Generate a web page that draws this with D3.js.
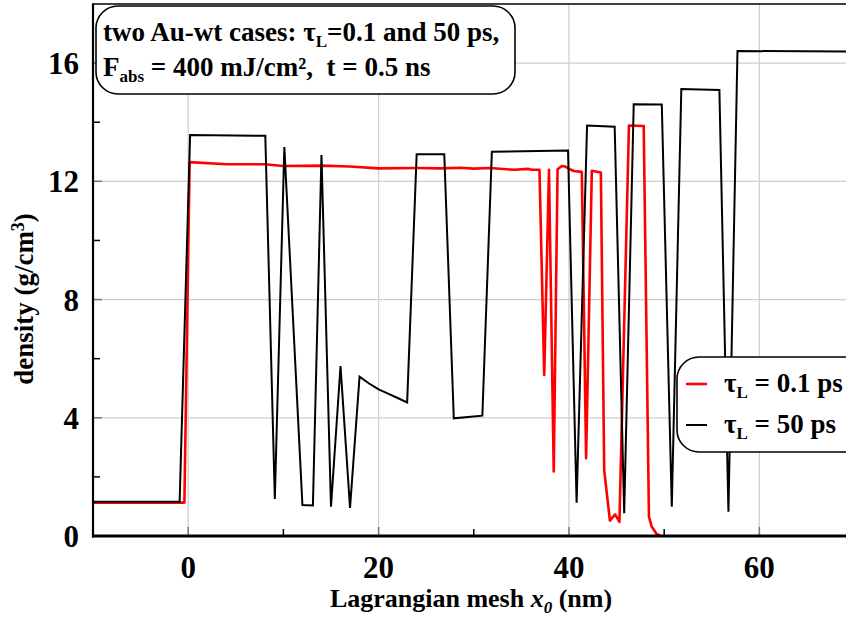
<!DOCTYPE html>
<html>
<head>
<meta charset="utf-8">
<script src="https://cdn.jsdelivr.net/npm/d3@7"></script>
<style>
  body { margin: 0; background: #fff; }
  svg { display: block; }
  text { font-family: "Liberation Serif", "Times New Roman", serif; font-weight: bold; white-space: pre; }
</style>
</head>
<body>
<svg id="chart" width="846" height="621"></svg>
<script>
// ---- data ----
const xMajorTicks = [0, 20, 40, 60];
const xMinorTicks = [-10, 10, 30, 50];
const yMajorTicks = [0, 4, 8, 12, 16];
const yMinorTicks = [2, 6, 10, 14];

// tau_L = 50 ps (black)
const blackX = [-10, -0.9, 0.2, 8.1, 9.1, 10.1, 12.0, 13.1, 14.0, 15.0, 16.0, 17.0, 18.0, 19.0, 20.0, 21.0, 22.0, 23.0, 24.0, 26.9, 27.9, 30.9, 31.9, 39.9, 40.8, 41.9, 44.8, 45.8, 46.8, 49.75, 50.8, 51.8, 55.8, 56.75, 57.7, 70];
const blackY = [1.16, 1.16, 13.57, 13.54, 1.25, 13.16, 1.05, 1.03, 12.89, 0.99, 5.75, 0.95, 5.39, 5.16, 4.96, 4.82, 4.67, 4.52, 12.92, 12.92, 3.98, 4.07, 13.0, 13.04, 1.13, 13.89, 13.85, 0.77, 14.61, 14.6, 0.99, 15.12, 15.09, 0.82, 16.41, 16.39];

// tau_L = 0.1 ps (red)
const redX = [-10, -0.4, 0.15, 4, 8, 10, 14, 17, 20, 24, 26.5, 28.6, 30, 31.7, 34.2, 35.75, 36.1, 36.9, 37.4, 37.9, 38.4, 38.8, 39.25, 39.6, 40.1, 40.5, 41.35, 41.8, 42.4, 43.35, 43.7, 44.3, 44.85, 45.3, 46.3, 47.85, 48.4, 48.7, 49.2, 49.6];
const redY = [1.13, 1.13, 12.65, 12.58, 12.58, 12.52, 12.53, 12.5, 12.44, 12.45, 12.44, 12.46, 12.43, 12.45, 12.39, 12.42, 12.39, 12.39, 5.45, 12.39, 2.18, 12.41, 12.52, 12.5, 12.41, 12.35, 12.32, 2.63, 12.36, 12.3, 2.23, 0.52, 0.73, 0.48, 13.89, 13.87, 0.65, 0.31, 0.07, 0];

const seriesNames = ["0.1 ps", "50 ps"];
const seriesColors = ["#ff0000", "#000000"];

// ---- layout ----
const svg = d3.select("#chart");
const pLeft = 93, pRight = 846, pTop = 4, pBottom = 536;
const x = d3.scaleLinear().domain([-10, 69.1]).range([pLeft, pRight]);
const y = d3.scaleLinear().domain([0, 18]).range([pBottom, pTop]);

// grid
svg.append("g").selectAll("line").data(xMajorTicks).join("line")
  .attr("x1", d => x(d)).attr("x2", d => x(d)).attr("y1", pTop).attr("y2", pBottom)
  .attr("stroke", "#cfcfcf").attr("stroke-width", 1.3);
svg.append("g").selectAll("line").data(yMajorTicks.filter(d => d > 0)).join("line")
  .attr("x1", pLeft).attr("x2", pRight).attr("y1", d => y(d)).attr("y2", d => y(d))
  .attr("stroke", "#cfcfcf").attr("stroke-width", 1.3);

// ticks (inward)
svg.append("g").selectAll("line").data(xMinorTicks).join("line")
  .attr("x1", d => x(d)).attr("x2", d => x(d)).attr("y1", pBottom).attr("y2", pBottom - 7)
  .attr("stroke", "#000").attr("stroke-width", 1.5);
svg.append("g").selectAll("line").data(xMajorTicks).join("line")
  .attr("x1", d => x(d)).attr("x2", d => x(d)).attr("y1", pBottom).attr("y2", pBottom - 9)
  .attr("stroke", "#777").attr("stroke-width", 1.5);
svg.append("g").selectAll("line").data(yMinorTicks).join("line")
  .attr("x1", pLeft).attr("x2", pLeft + 7).attr("y1", d => y(d)).attr("y2", d => y(d))
  .attr("stroke", "#000").attr("stroke-width", 1.5);
svg.append("g").selectAll("line").data(yMajorTicks.filter(d => d > 0)).join("line")
  .attr("x1", pLeft).attr("x2", pLeft + 9).attr("y1", d => y(d)).attr("y2", d => y(d))
  .attr("stroke", "#777").attr("stroke-width", 1.5);

// clip
svg.append("clipPath").attr("id", "clip").append("rect")
  .attr("x", pLeft).attr("y", pTop).attr("width", pRight - pLeft).attr("height", pBottom - pTop);

const line = d3.line().x(d => x(d[0])).y(d => y(d[1]));
const blackData = blackX.map((v, i) => [v, blackY[i]]);
const redData = redX.map((v, i) => [v, redY[i]]);

svg.append("path").datum(redData).attr("d", line).attr("clip-path", "url(#clip)")
  .attr("fill", "none").attr("stroke", seriesColors[0]).attr("stroke-width", 2.6)
  .attr("stroke-linejoin", "round");
svg.append("path").datum(blackData).attr("d", line).attr("clip-path", "url(#clip)")
  .attr("fill", "none").attr("stroke", seriesColors[1]).attr("stroke-width", 2)
  .attr("stroke-linejoin", "miter");

// frame
svg.append("line").attr("x1", pLeft).attr("x2", pRight).attr("y1", pTop).attr("y2", pTop)
  .attr("stroke", "#000").attr("stroke-width", 1.5);
svg.append("line").attr("x1", pLeft).attr("x2", pLeft).attr("y1", pTop - 0.75).attr("y2", pBottom + 1.5)
  .attr("stroke", "#000").attr("stroke-width", 2.2);
svg.append("line").attr("x1", pLeft - 1).attr("x2", pRight).attr("y1", pBottom).attr("y2", pBottom)
  .attr("stroke", "#000").attr("stroke-width", 3);

// tick labels
svg.append("g").selectAll("text").data(xMajorTicks).join("text")
  .attr("x", d => x(d)).attr("y", 578).attr("text-anchor", "middle")
  .attr("font-size", 31).text(d => d);
svg.append("g").selectAll("text").data(yMajorTicks).join("text")
  .attr("x", 79).attr("y", d => y(d) + 11).attr("text-anchor", "end")
  .attr("font-size", 31).text(d => d);

// axis titles
const xt = svg.append("text").attr("x", 471).attr("y", 607).attr("text-anchor", "middle")
  .attr("font-size", 26);
xt.append("tspan").text("Lagrangian mesh ");
xt.append("tspan").attr("font-style", "italic").text("x");
xt.append("tspan").attr("font-style", "italic").attr("font-size", 17).attr("dy", 6).text("0");
xt.append("tspan").attr("dy", -6).text(" (nm)");

const yt = svg.append("text").attr("transform", "translate(33,299) rotate(-90)")
  .attr("text-anchor", "middle").attr("font-size", 27);
yt.append("tspan").text("density (g/cm");
yt.append("tspan").attr("font-size", 18).attr("dy", -9).text("3");
yt.append("tspan").attr("dy", 9).text(")");

// annotation box
svg.append("rect").attr("x", 96).attr("y", 6).attr("width", 419).attr("height", 88)
  .attr("rx", 22).attr("ry", 22).attr("fill", "#fff").attr("stroke", "#000").attr("stroke-width", 1.6);
const a1 = svg.append("text").attr("x", 103).attr("y", 41).attr("font-size", 27);
a1.append("tspan").text("two Au-wt cases: τ");
a1.append("tspan").attr("font-size", 17).attr("dy", 6).text("L");
a1.append("tspan").attr("dy", -6).text("=0.1 and 50 ps,");
const a2 = svg.append("text").attr("x", 103).attr("y", 76).attr("font-size", 27);
a2.append("tspan").text("F");
a2.append("tspan").attr("font-size", 17).attr("dy", 6).text("abs");
a2.append("tspan").attr("dy", -6).text(" = 400 mJ/cm\u00B2,  t = 0.5 ns");

// legend
svg.append("rect").attr("x", 677).attr("y", 357).attr("width", 190).attr("height", 95)
  .attr("rx", 22).attr("ry", 22).attr("fill", "#fff").attr("stroke", "#000").attr("stroke-width", 1.6);
const legY = [384, 425];
seriesNames.forEach((name, i) => {
  svg.append("line").attr("x1", 686).attr("x2", 707).attr("y1", legY[i]).attr("y2", legY[i])
    .attr("stroke", seriesColors[i]).attr("stroke-width", i === 0 ? 2.6 : 2);
  const t = svg.append("text").attr("x", 724).attr("y", legY[i] + 8).attr("font-size", 27);
  t.append("tspan").text("τ");
  t.append("tspan").attr("font-size", 17).attr("dy", 6).text("L");
  t.append("tspan").attr("dy", -6).text(" = " + name);
});
</script>
</body>
</html>
